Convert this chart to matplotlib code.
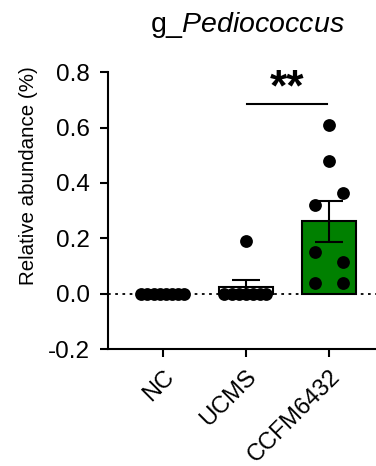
import numpy as np
import matplotlib.pyplot as plt

plt.rcParams['font.family'] = ['Liberation Sans', 'DejaVu Sans']
plt.rcParams['mathtext.fontset'] = 'custom'
plt.rcParams['mathtext.rm'] = 'Liberation Sans'
plt.rcParams['mathtext.it'] = 'Liberation Sans:italic'

groups = ['NC', 'UCMS', 'CCFM6432']
bar_means = [0.0, 0.024, 0.261]
bar_sem = [0.0, 0.024, 0.075]
bar_colors = ['white', 'white', '#008000']

nc_points = [0, 0, 0, 0, 0, 0, 0, 0]
ucms_points = [0.19, 0, 0, 0, 0, 0, 0, 0]
ccfm_points = [0.61, 0.48, 0.363, 0.32, 0.15, 0.115, 0.039, 0.039]

nc_offsets = [-0.26, -0.185, -0.11, -0.037, 0.037, 0.11, 0.185, 0.26]
ucms_offsets = [0.0, -0.26, -0.17, -0.085, 0.0, 0.085, 0.17, 0.25]
ccfm_offsets = [0.0, 0.0, 0.17, -0.17, -0.17, 0.17, -0.17, 0.17]


def main():
    fig = plt.figure(figsize=(3.76, 4.66), dpi=100)
    ax = fig.add_axes([0.287, 0.251, 0.713, 0.594])

    x = np.arange(len(groups))
    ax.bar(x, bar_means, width=0.65, color=bar_colors, edgecolor='black',
           linewidth=1.5, zorder=2)
    ax.errorbar(x, bar_means, yerr=bar_sem, fmt='none', ecolor='black',
                elinewidth=1.5, capsize=10, capthick=1.5, zorder=3)

    ax.axhline(0, color='black', lw=1.3, ls=(0, (1.5, 2.5)), zorder=1)

    for i, (pts, offs) in enumerate([(nc_points, nc_offsets),
                                     (ucms_points, ucms_offsets),
                                     (ccfm_points, ccfm_offsets)]):
        ax.scatter(i + np.array(offs), pts, s=85, color='black', zorder=4,
                   linewidths=0)

    # significance bar
    ax.plot([1.01, 1.98], [0.685, 0.685], color='black', lw=1.5)
    ax.text(1.495, 0.74, '**', ha='center', va='center', fontsize=32,
            fontweight='bold')

    ax.set_xlim(-0.66, 2.57)
    ax.set_ylim(-0.2, 0.8)
    ax.set_yticks([-0.2, 0.0, 0.2, 0.4, 0.6, 0.8])
    ax.set_yticklabels(['-0.2', '0.0', '0.2', '0.4', '0.6', '0.8'])
    ax.set_xticks(x)
    ax.set_xticklabels(groups, rotation=45, ha='right', rotation_mode='anchor')
    ax.tick_params(axis='both', labelsize=17.5, width=1.5, length=6)
    ax.tick_params(axis='y', pad=7)
    ax.tick_params(axis='x', pad=6, labelsize=17)
    ax.set_ylabel('Relative abundance (%)', fontsize=14.8)
    ax.yaxis.set_label_coords(-0.26, 0.628)

    ax.spines['top'].set_visible(False)
    ax.spines['right'].set_visible(False)
    ax.spines['left'].set_linewidth(1.5)
    ax.spines['bottom'].set_linewidth(1.5)

    fig.text(0.657, 0.946, r'g_$\mathit{Pediococcus}$', ha='center',
             va='center', fontsize=20.5)

    fig.savefig('out.png', dpi=100)


if __name__ == '__main__':
    main()
